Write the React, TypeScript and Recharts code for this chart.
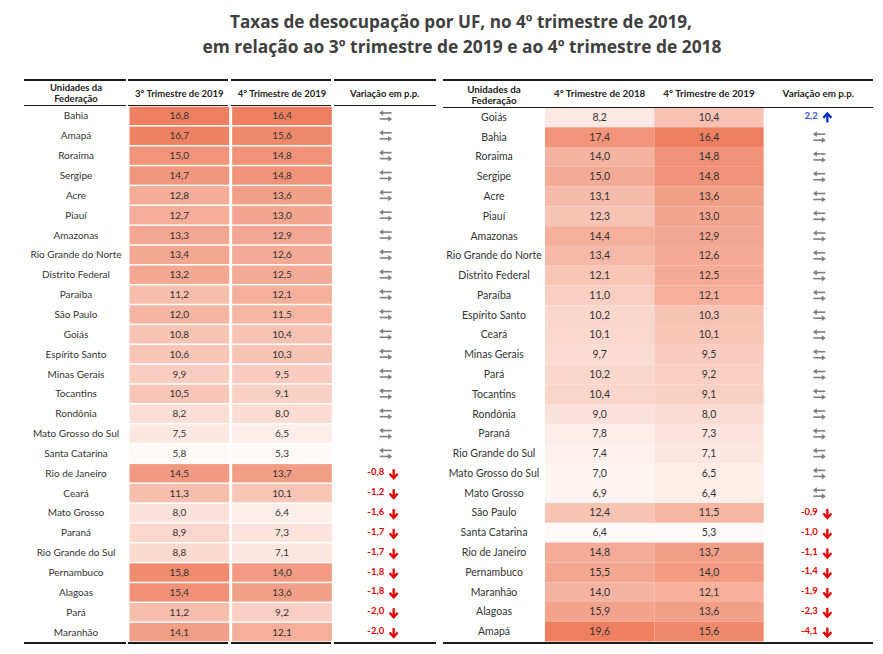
import { Scatter, ScatterChart, XAxis, YAxis } from 'recharts'

const TITLE_1 = 'Taxas de desocupação por UF, no 4º trimestre de 2019,'
const TITLE_2 = 'em relação ao 3º trimestre de 2019 e ao 4º trimestre de 2018'

// tabela da esquerda: 3º tri 2019 x 4º tri 2019
const leftUF = [
  'Bahia', 'Amapá', 'Roraima', 'Sergipe', 'Acre', 'Piauí', 'Amazonas', 'Rio Grande do Norte',
  'Distrito Federal', 'Paraíba', 'São Paulo', 'Goiás', 'Espírito Santo', 'Minas Gerais', 'Tocantins',
  'Rondônia', 'Mato Grosso do Sul', 'Santa Catarina', 'Rio de Janeiro', 'Ceará', 'Mato Grosso',
  'Paraná', 'Rio Grande do Sul', 'Pernambuco', 'Alagoas', 'Pará', 'Maranhão',
]
const left3T19 = [16.8, 16.7, 15.0, 14.7, 12.8, 12.7, 13.3, 13.4, 13.2, 11.2, 12.0, 10.8, 10.6, 9.9, 10.5, 8.2, 7.5, 5.8, 14.5, 11.3, 8.0, 8.9, 8.8, 15.8, 15.4, 11.2, 14.1]
const left4T19 = [16.4, 15.6, 14.8, 14.8, 13.6, 13.0, 12.9, 12.6, 12.5, 12.1, 11.5, 10.4, 10.3, 9.5, 9.1, 8.0, 6.5, 5.3, 13.7, 10.1, 6.4, 7.3, 7.1, 14.0, 13.6, 9.2, 12.1]
// null = estabilidade (variação não significativa)
const leftVar: (number | null)[] = [
  null, null, null, null, null, null, null, null, null, null, null, null, null, null, null, null, null, null,
  -0.8, -1.2, -1.6, -1.7, -1.7, -1.8, -1.8, -2.0, -2.0,
]
const leftHeaders = ['3° Trimestre de 2019', '4° Trimestre de 2019', 'Variação em p.p.']

// tabela da direita: 4º tri 2018 x 4º tri 2019
const rightUF = [
  'Goiás', 'Bahia', 'Roraima', 'Sergipe', 'Acre', 'Piauí', 'Amazonas', 'Rio Grande do Norte',
  'Distrito Federal', 'Paraíba', 'Espírito Santo', 'Ceará', 'Minas Gerais', 'Pará', 'Tocantins',
  'Rondônia', 'Paraná', 'Rio Grande do Sul', 'Mato Grosso do Sul', 'Mato Grosso', 'São Paulo',
  'Santa Catarina', 'Rio de Janeiro', 'Pernambuco', 'Maranhão', 'Alagoas', 'Amapá',
]
const right4T18 = [8.2, 17.4, 14.0, 15.0, 13.1, 12.3, 14.4, 13.4, 12.1, 11.0, 10.2, 10.1, 9.7, 10.2, 10.4, 9.0, 7.8, 7.4, 7.0, 6.9, 12.4, 6.4, 14.8, 15.5, 14.0, 15.9, 19.6]
const right4T19 = [10.4, 16.4, 14.8, 14.8, 13.6, 13.0, 12.9, 12.6, 12.5, 12.1, 10.3, 10.1, 9.5, 9.2, 9.1, 8.0, 7.3, 7.1, 6.5, 6.4, 11.5, 5.3, 13.7, 14.0, 12.1, 13.6, 15.6]
const rightVar: (number | null)[] = [
  2.2, null, null, null, null, null, null, null, null, null, null, null, null, null, null, null, null, null, null, null,
  -0.9, -1.0, -1.1, -1.4, -1.9, -2.3, -4.1,
]
const rightHeaders = ['4° Trimestre de 2018', '4° Trimestre de 2019', 'Variação em p.p.']

const FONT = 'Lato, "Open Sans", sans-serif'
const TEXT = '#333333'
const LOW = [255, 250, 248]
const HIGH = [238, 128, 97]

const fmt = (v: number) => v.toFixed(1).replace('.', ',')

function heat(v: number, min: number, max: number) {
  const t = (v - min) / (max - min)
  const c = LOW.map((lo, i) => Math.round(lo + (HIGH[i] - lo) * t))
  return `rgb(${c[0]},${c[1]},${c[2]})`
}

type Layout = {
  x0: number
  width: number
  nameW: number
  top: number
  headerH: number
  bottom: number
  gapX: number
  gapY: number
  fontSize: number
  headFont: number
  nameHead: [number, number] // baselines of "Unidades da" / "Federação"
  segments: [number, number][]
}

const LEFT_LAYOUT: Layout = {
  x0: 24, width: 412, nameW: 104, top: 80, headerH: 26, bottom: 642,
  gapX: 3, gapY: 1.5, fontSize: 10, headFont: 9.5, nameHead: [91, 101.5],
  segments: [[0, 102], [104, 204], [207, 307], [310, 412]],
}
const RIGHT_LAYOUT: Layout = {
  x0: 443, width: 430, nameW: 102, top: 80, headerH: 27.5, bottom: 641.5,
  gapX: 0, gapY: 0, fontSize: 10.5, headFont: 9.8, nameHead: [92.5, 103.5],
  segments: [[0, 430]],
}

const H = 654

function SwapIcon({ cx, cy }: { cx: number; cy: number }) {
  const c = '#7f7f7f'
  return (
    <g>
      <line x1={cx - 4} y1={cy - 3} x2={cx + 6} y2={cy - 3} stroke={c} strokeWidth={1.6} />
      <path d={`M${cx - 6.5},${cy - 3} L${cx - 2.5},${cy - 5.8} L${cx - 2.5},${cy - 0.2} Z`} fill={c} />
      <line x1={cx - 6} y1={cy + 3} x2={cx + 4} y2={cy + 3} stroke={c} strokeWidth={1.6} />
      <path d={`M${cx + 6.5},${cy + 3} L${cx + 2.5},${cy + 0.2} L${cx + 2.5},${cy + 5.8} Z`} fill={c} />
    </g>
  )
}

function VarCell(props: any) {
  const { cx, cy, payload } = props
  const d: number | null = payload.d
  if (d == null) return <SwapIcon cx={cx + 1} cy={cy} />
  const up = d > 0
  const txt = up ? '#2f55d4' : '#e00000'
  const arr = up ? '#0a2fc0' : '#e00000'
  const ax = cx + 9
  return (
    <g>
      <text x={cx - 0.5} y={cy + 2} textAnchor="end" fontFamily={FONT} fontWeight={700} fontSize={9.5} fill={txt}>
        {fmt(d)}
      </text>
      {up ? (
        <g stroke={arr} strokeWidth={2.3} fill="none">
          <line x1={ax} y1={cy + 5} x2={ax} y2={cy - 3.5} />
          <polyline points={`${ax - 4},${cy + 0.5} ${ax},${cy - 4} ${ax + 4},${cy + 0.5}`} />
        </g>
      ) : (
        <g stroke={arr} strokeWidth={2.3} fill="none">
          <line x1={ax} y1={cy - 4} x2={ax} y2={cy + 4.5} />
          <polyline points={`${ax - 4},${cy + 0.5} ${ax},${cy + 5} ${ax + 4},${cy + 0.5}`} />
        </g>
      )}
    </g>
  )
}

function UFTable({
  layout, ufs, colA, colB, vari, headers,
}: {
  layout: Layout
  ufs: string[]
  colA: number[]
  colB: number[]
  vari: (number | null)[]
  headers: string[]
}) {
  const n = ufs.length
  const plotW = layout.width - layout.nameW
  const plotTop = layout.top + layout.headerH
  const cellW = plotW / 3
  const cellH = (layout.bottom - plotTop) / n
  const minA = Math.min(...colA)
  const maxA = Math.max(...colA)
  const minB = Math.min(...colB)
  const maxB = Math.max(...colB)

  const cells = [
    ...colA.map((v, i) => ({ x: 0.5, y: i + 0.5, v, fill: heat(v, minA, maxA) })),
    ...colB.map((v, i) => ({ x: 1.5, y: i + 0.5, v, fill: heat(v, minB, maxB) })),
  ]
  const vars = vari.map((d, i) => ({ x: 2.5, y: i + 0.5, d }))

  const HeatCell = (p: any) => {
    const { cx, cy, payload } = p
    return (
      <g>
        <rect
          x={cx - cellW / 2 + layout.gapX / 2}
          y={cy - cellH / 2 + layout.gapY / 2}
          width={cellW - layout.gapX}
          height={cellH - layout.gapY}
          fill={payload.fill}
        />
        <text x={cx} y={cy + 3.5} textAnchor="middle" fontFamily={FONT} fontSize={layout.fontSize} fill={TEXT}>
          {fmt(payload.v)}
        </text>
      </g>
    )
  }

  const rule = (y: number, h: number) =>
    layout.segments.map(([a, b], k) => (
      <div
        key={`${y}-${k}`}
        style={{ position: 'absolute', left: layout.x0 + a, top: y, width: b - a, height: h, background: '#1a1a1a' }}
      />
    ))

  return (
    <>
      <div style={{ position: 'absolute', left: layout.x0, top: 0 }}>
        <ScatterChart
          width={layout.width}
          height={H}
          margin={{ top: layout.top, right: 0, bottom: H - layout.bottom, left: 0 }}
        >
          <XAxis
            type="number"
            dataKey="x"
            orientation="top"
            domain={[0, 3]}
            ticks={[0.5, 1.5, 2.5]}
            interval={0}
            height={layout.headerH}
            tickSize={0}
            tickMargin={0}
            axisLine={false}
            tickLine={false}
            tick={(p: any) => (
              <text
                x={p.x}
                y={p.y - layout.headerH / 2 + 3.5}
                textAnchor="middle"
                fontFamily={FONT}
                fontWeight={700}
                fontSize={layout.headFont}
                fill="#222"
              >
                {headers[Math.floor(p.payload.value)]}
              </text>
            )}
          />
          <YAxis
            type="number"
            dataKey="y"
            domain={[0, n]}
            reversed
            ticks={ufs.map((_, i) => i + 0.5)}
            interval={0}
            width={layout.nameW}
            tickSize={0}
            tickMargin={0}
            axisLine={false}
            tickLine={false}
            tick={(p: any) => (
              <text
                x={p.x - layout.nameW / 2}
                y={p.y + 3.5}
                textAnchor="middle"
                fontFamily={FONT}
                fontSize={layout.fontSize}
                fill={TEXT}
              >
                {ufs[Math.floor(p.payload.value)]}
              </text>
            )}
            label={{
              content: (p: any) => {
                const vb = p.viewBox
                const cx = vb.x + vb.width / 2
                return (
                  <text textAnchor="middle" fontFamily={FONT} fontWeight={700} fontSize={layout.headFont} fill="#222">
                    <tspan x={cx} y={layout.nameHead[0]}>Unidades da</tspan>
                    <tspan x={cx} y={layout.nameHead[1]}>Federação</tspan>
                  </text>
                )
              },
            }}
          />
          <Scatter data={cells} shape={HeatCell} isAnimationActive={false} />
          <Scatter data={vars} shape={VarCell} isAnimationActive={false} />
        </ScatterChart>
      </div>
      {rule(layout.top - 1, 2)}
      {rule(plotTop - 1, 1.2)}
      {rule(layout.bottom, 2)}
    </>
  )
}

export default function App() {
  return (
    <div style={{ position: 'absolute', left: 0, top: 0, width: 883, height: H, background: '#fff', overflow: 'hidden' }}>
      <svg width={883} height={62} style={{ position: 'absolute', left: 0, top: 0 }}>
        <text
          x={461}
          y={28}
          textAnchor="middle"
          fontFamily='"Open Sans", sans-serif'
          fontWeight={700}
          fontSize={18}
          fill="#404040"
          textLength={462}
          lengthAdjust="spacingAndGlyphs"
        >
          {TITLE_1}
        </text>
        <text
          x={462}
          y={53}
          textAnchor="middle"
          fontFamily='"Open Sans", sans-serif'
          fontWeight={700}
          fontSize={18}
          fill="#404040"
          textLength={519}
          lengthAdjust="spacingAndGlyphs"
        >
          {TITLE_2}
        </text>
      </svg>
      <UFTable layout={LEFT_LAYOUT} ufs={leftUF} colA={left3T19} colB={left4T19} vari={leftVar} headers={leftHeaders} />
      <UFTable layout={RIGHT_LAYOUT} ufs={rightUF} colA={right4T18} colB={right4T19} vari={rightVar} headers={rightHeaders} />
    </div>
  )
}
